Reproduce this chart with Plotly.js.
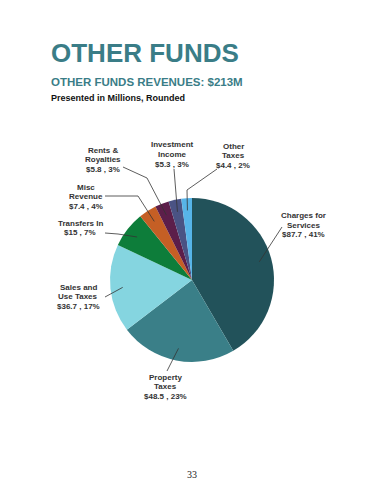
<!DOCTYPE html>
<html>
<head>
<meta charset="utf-8">
<script src="https://cdn.plot.ly/plotly-3.0.1.min.js"></script>
<style>
html,body{margin:0;padding:0;background:#fff;}
#chart{width:384px;height:480px;}
</style>
</head>
<body>
<div id="chart"></div>
<script>
// Data
const categories = ["Charges for Services", "Property Taxes", "Sales and Use Taxes", "Transfers In",
  "Misc Revenue", "Rents & Royalties", "Investment Income", "Other Taxes"];
const values = [87.7, 48.5, 36.7, 15, 7.4, 5.8, 5.3, 4.4];
const percents = [41, 23, 17, 7, 4, 3, 3, 2];
const labelLines = [
  ["Charges for", "Services"],
  ["Property", "Taxes"],
  ["Sales and", "Use Taxes"],
  ["Transfers In"],
  ["Misc", "Revenue"],
  ["Rents &", "Royalties"],
  ["Investment", "Income"],
  ["Other", "Taxes"]
];
const colors = ["#22525A", "#3A7F88", "#85D5E0", "#0D7D3A", "#C55F25", "#5C1E4A", "#4A5384", "#57B4E8"];

// Layout (pixel helpers)
const W = 384, H = 480;
const px = x => x / W;
const py = y => 1 - y / H;
const pie = {x0: 109, x1: 275, y0: 198, y1: 362};
const cx = (pie.x0 + pie.x1) / 2, cy = (pie.y0 + pie.y1) / 2;
const R = Math.min(pie.x1 - pie.x0, pie.y1 - pie.y0) / 2;
const LINE_H = 9.5;

// label text positions (first line centre) and leader anchors (layout only)
const labelPos = [
  {x: 303, y: 216, pts: [[282, 227]]},
  {x: 165, y: 377, pts: [[167, 371]]},
  {x: 78, y: 287, pts: [[105, 297]]},
  {x: 80, y: 223, pts: [[105, 233], [118, 234]]},
  {x: 86, y: 187, pts: [[105, 196], [138, 196]]},
  {x: 103, y: 150, pts: [[123, 167], [147, 178]]},
  {x: 172, y: 145, pts: [[174, 169]]},
  {x: 233, y: 146, pts: [[217, 169], [187, 190]]}
];

const total = values.reduce((a, b) => a + b, 0);
let cum = 0;
const annotations = [];
const shapes = [];
const labFont = {family: "Liberation Sans, Arial, sans-serif", size: 8, color: "#333"};
values.forEach((v, i) => {
  const mid = (cum + v / 2) / total * 2 * Math.PI;
  cum += v;
  const tx = cx + 0.85 * R * Math.sin(mid);
  const ty = cy - 0.85 * R * Math.cos(mid);
  const lp = labelPos[i];
  const lines = labelLines[i].concat(["$" + v + " , " + percents[i] + "%"]);
  lines.forEach((s, k) => {
    annotations.push({
      x: px(lp.x), y: py(lp.y + k * LINE_H), xref: "paper", yref: "paper",
      text: "<b>" + s.replace("&", "&amp;") + "</b>", showarrow: false,
      xanchor: "center", yanchor: "middle", align: "center", font: labFont
    });
  });
  const pts = lp.pts.concat([[tx, ty]]);
  let d = "";
  pts.forEach((p, k) => { d += (k ? " L " : "M ") + px(p[0]) + "," + py(p[1]); });
  shapes.push({type: "path", xref: "paper", yref: "paper", path: d,
    line: {color: "#333", width: 0.8}});
});

annotations.push(
  {x: px(49), y: py(53), xref: "paper", yref: "paper", text: "<b>OTHER FUNDS</b>", showarrow: false,
   xanchor: "left", yanchor: "middle", font: {family: "Liberation Sans, Arial, sans-serif", size: 26, color: "#3A7D87"}},
  {x: px(49), y: py(82), xref: "paper", yref: "paper", text: "<b>OTHER FUNDS REVENUES: $213M</b>", showarrow: false,
   xanchor: "left", yanchor: "middle", font: {family: "Liberation Sans, Arial, sans-serif", size: 11.5, color: "#3A7D87"}},
  {x: px(49), y: py(98), xref: "paper", yref: "paper", text: "<b>Presented in Millions, Rounded</b>", showarrow: false,
   xanchor: "left", yanchor: "middle", font: {family: "Liberation Sans, Arial, sans-serif", size: 9, color: "#111"}},
  {x: px(192), y: py(474), xref: "paper", yref: "paper", text: "33", showarrow: false,
   xanchor: "center", yanchor: "middle", font: {family: "Liberation Serif, Times New Roman, serif", size: 10, color: "#222"}}
);

const trace = {
  type: "pie", labels: categories, values: values, sort: false, direction: "clockwise", rotation: 0,
  marker: {colors: colors, line: {color: "#fff", width: 0}},
  textinfo: "none", textposition: "none", hoverinfo: "none", showlegend: false,
  domain: {x: [px(pie.x0), px(pie.x1)], y: [py(pie.y1), py(pie.y0)]}
};

Plotly.newPlot("chart", [trace], {
  width: W, height: H, margin: {l: 0, r: 0, t: 0, b: 0},
  paper_bgcolor: "#fff", plot_bgcolor: "#fff", showlegend: false,
  annotations: annotations, shapes: shapes
}, {displayModeBar: false, staticPlot: true});
</script>
</body>
</html>
